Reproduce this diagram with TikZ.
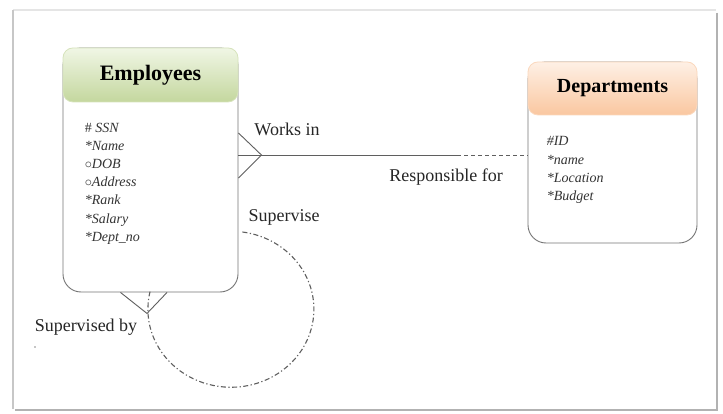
\documentclass[tikz,border=0pt]{standalone}
\usepackage{fontspec}
\setmainfont{Liberation Serif}
\usetikzlibrary{positioning}

\definecolor{empTop}{RGB}{240,246,229}
\definecolor{empBot}{RGB}{196,215,158}
\definecolor{depTop}{RGB}{254,240,229}
\definecolor{depBot}{RGB}{250,199,160}
\definecolor{edgegray}{RGB}{118,118,118}
\definecolor{linegray}{RGB}{95,95,95}

\begin{document}
\begin{tikzpicture}[x=1pt,y=1pt]
\tikzset{entity/.style={rectangle,draw=edgegray,line width=0.9pt,rounded corners=18pt,fill=white},
  header/.style={rectangle,rounded corners=10pt,top color=#1Top,bottom color=#1Bot,draw=#1Bot!70!white,line width=0.8pt,anchor=north},
  attrs/.style={anchor=north west,align=left,inner sep=0pt,text=black!80,font=\fontsize{14}{18.2}\selectfont\itshape},
  rellabel/.style={inner sep=0pt,text=black!85,font=\fontsize{18}{22}\selectfont},
  rel/.style={draw=linegray,line width=0.9pt},
  selfrel/.style={draw=linegray,line width=1.1pt,dash pattern=on 5pt off 2.5pt on 1.2pt off 2.5pt}}

  \useasboundingbox (0,0) rectangle (723,413);
  \fill[white] (0,0) rectangle (723,413);
  % page frame
  \draw[black!10, line width=1.5pt] (13,403) -- (716,403);
  \draw[black!22, line width=2.5pt] (13,4) -- (13,403);
  \draw[black!30, line width=2.5pt] (717,400) -- (717,3) -- (15,3);

  \node [entity, minimum width=175pt, minimum height=244pt] (emp) at (150.5,243) {};
  \node [header=emp, minimum width=175pt, minimum height=54pt, font=\fontsize{22}{26}\selectfont\bfseries] (emphead) at (emp.north) {Employees};
  \node [attrs] (empattr) at ([xshift=22pt,yshift=-75pt]emp.north west) {\textup{\#} SSN\\*Name\\$\circ$DOB\\$\circ$Address\\*Rank\\*Salary\\*Dept\_no};

  \node [entity, minimum width=169pt, minimum height=181pt] (dept) at (612.5,260.5) {};
  \node [header=dep, minimum width=169pt, minimum height=53pt, font=\fontsize{20}{24}\selectfont\bfseries] (dephead) at (dept.north) {Departments};
  \node [attrs] (deptattr) at ([xshift=19pt,yshift=-75pt]dept.north west) {\#ID\\*name\\*Location\\*Budget};

  % works in / responsible for
  \coordinate (split) at (457,258);
  \draw [rel] ([yshift=37pt]emp.east) -- ([xshift=23pt,yshift=15pt]emp.east) -- ([yshift=-8pt]emp.east);
  \draw [rel] ([yshift=15pt]emp.east) -- (split);
  \draw [rel, dash pattern=on 4pt off 3pt] (split) -- (dept.west |- split);
  \node [rellabel] (worksin) at (287,284) {Works in};
  \node [rellabel] (respfor) at (446,236) {Responsible for};

  % supervise / supervised by
  \draw [rel] ([xshift=-30pt]emp.south) -- ([xshift=-3.5pt,yshift=-21pt]emp.south) -- ([xshift=16.5pt]emp.south);
  \draw [selfrel] ([xshift=4pt,yshift=-62pt]emp.east) arc[start angle=82, end angle=-193, x radius=83pt, y radius=78pt];
  \node [rellabel] (supervise) at (284,196) {Supervise};
  \node [rellabel] (supby) at (86,86) {Supervised by};
  \fill [black!45] (35,66) circle (0.9pt);

\end{tikzpicture}
\end{document}
